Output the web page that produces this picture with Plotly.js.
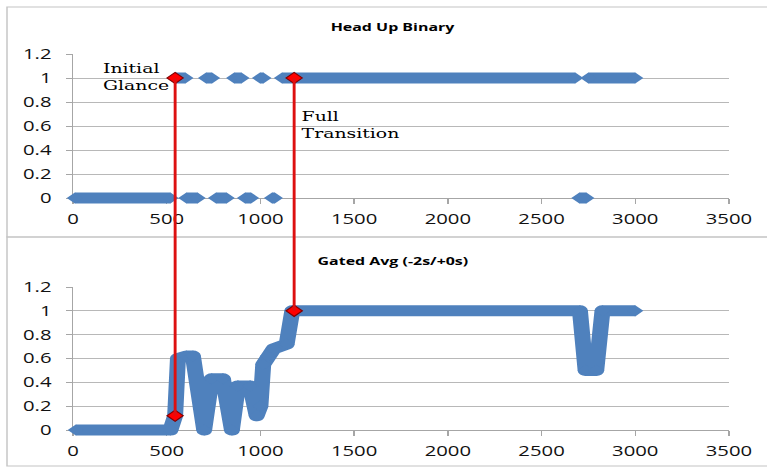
<!DOCTYPE html>
<html>
<head>
<meta charset="utf-8">
<script src="https://cdn.plot.ly/plotly-3.0.1.min.js"></script>
<style>
  html, body { margin: 0; padding: 0; background: #fff; overflow: hidden; }
  #chart { width: 529px; height: 468px; transform: scaleX(1.44991); transform-origin: 0 0; }
  #chart .js-line { stroke-linejoin: round !important; }
</style>
</head>
<body>
<div id="chart"></div>
<script>
// ---- data ----
const titleTop = "Head Up Binary";
const titleBottom = "Gated Avg (-2s/+0s)";
const xTicks = [0, 500, 1000, 1500, 2000, 2500, 3000, 3500];
const yTicks = [0, 0.2, 0.4, 0.6, 0.8, 1, 1.2];

// Head Up Binary: runs of consecutive samples (first x, last x) at value 1 and at value 0
const headUpOnStart  = [550, 710, 860, 998, 1115, 2750];
const headUpOnEnd    = [600, 742, 899, 1016, 2680, 3000];
const headUpOffStart = [10, 605, 763, 918, 1062, 2702];
const headUpOffEnd   = [520, 665, 820, 950, 1077, 2739];

// Gated average (-2s/+0s)
const gatedX = [15, 520, 545, 560, 605, 640, 700, 740, 800, 848, 880, 945, 980, 1000, 1015, 1040, 1070, 1140, 1170, 2705, 2735, 2792, 2825, 3000];
const gatedY = [0, 0, 0.12, 0.6, 0.62, 0.62, 0, 0.43, 0.43, 0, 0.37, 0.37, 0.12, 0.2, 0.55, 0.62, 0.68, 0.72, 1.0, 1.0, 0.5, 0.5, 1.0, 1.0];

// Event markers
const eventLabels = ["Initial<br>Glance", "Full<br>Transition"];
const eventX = [545, 1180];
const eventTopY = [1, 1];
const eventBottomY = [0.12, 1.0];

// ---- layout geometry ----
const W = 529, H = 468;
const blue = "#4F81BD";
const xRange = [0, 3500];
const yRange = [0, 1.2];
const xDomain = [50.34 / W, 502.76 / W];
const yDomTop = [1 - 198 / H, 1 - 54 / H];
const yDomBot = [1 - 430 / H, 1 - 287 / H];
function yPaper(dom, v) { return dom[0] + (v - yRange[0]) / (yRange[1] - yRange[0]) * (dom[1] - dom[0]); }

// invisible data axes with the same scale but a padded range, so thick marks are not clipped
const xPad = 100, yPad = 0.2;
function padDomain(dom, range, pad) {
  const k = (dom[1] - dom[0]) / (range[1] - range[0]);
  return [dom[0] - pad * k, dom[1] + pad * k];
}
const xDataDom = padDomain(xDomain, xRange, xPad);
const xDataRange = [xRange[0] - xPad, xRange[1] + xPad];
const yDataRange = [yRange[0] - yPad, yRange[1] + yPad];
const yDataDomTop = padDomain(yDomTop, yRange, yPad);
const yDataDomBot = padDomain(yDomBot, yRange, yPad);

function runsToXY(starts, ends, val) {
  const x = [], y = [];
  starts.forEach((s, i) => { x.push(s, ends[i], null); y.push(val, val, null); });
  return { x, y };
}
const on = runsToXY(headUpOnStart, headUpOnEnd, 1);
const off = runsToXY(headUpOffStart, headUpOffEnd, 0);

const bandLine = { color: blue, width: 11 };
const bandMarker = { symbol: "diamond", size: 8.6, color: blue, line: { width: 0 } };
const redMarker = { symbol: "diamond", size: 8.6, color: "#ff0000", line: { color: "#800000", width: 1 } };

const traces = [
  // empty traces that register the two visible (gridded) subplots
  { x: [], y: [], xaxis: "x", yaxis: "y", mode: "markers", hoverinfo: "skip" },
  { x: [], y: [], xaxis: "x2", yaxis: "y2", mode: "markers", hoverinfo: "skip" },
  { x: on.x, y: on.y, xaxis: "x3", yaxis: "y3", mode: "lines+markers", line: bandLine, marker: bandMarker, connectgaps: false, hoverinfo: "skip" },
  { x: off.x, y: off.y, xaxis: "x3", yaxis: "y3", mode: "lines+markers", line: bandLine, marker: bandMarker, connectgaps: false, hoverinfo: "skip" },
  { x: gatedX, y: gatedY, xaxis: "x4", yaxis: "y4", mode: "lines+markers", line: bandLine, marker: bandMarker, hoverinfo: "skip" },
  { x: eventX, y: eventTopY, xaxis: "x3", yaxis: "y3", mode: "markers", marker: redMarker, cliponaxis: false, hoverinfo: "skip" },
  { x: eventX, y: eventBottomY, xaxis: "x4", yaxis: "y4", mode: "markers", marker: redMarker, cliponaxis: false, hoverinfo: "skip" }
];

const tickFont = { family: "Open Sans, sans-serif", size: 14, color: "#111" };
const axisGray = "#a6a6a6";
function xAxis(anchor) {
  return {
    domain: xDomain, anchor: anchor, range: xRange, tickmode: "array", tickvals: xTicks,
    ticktext: xTicks.map(String), showgrid: false, zeroline: false, showline: true,
    linecolor: axisGray, linewidth: 1, ticks: "outside", ticklen: 5, tickcolor: axisGray,
    tickfont: tickFont, ticklabelstandoff: 3, fixedrange: true
  };
}
function yAxis(dom, anchor) {
  return {
    domain: dom, anchor: anchor, range: yRange, tickmode: "array", tickvals: yTicks,
    ticktext: yTicks.map(String), showgrid: true, gridcolor: "#b8b8b8", gridwidth: 1,
    zeroline: false, showline: true, linecolor: axisGray, linewidth: 1,
    ticks: "outside", ticklen: 4, tickcolor: axisGray, tickfont: tickFont, ticklabelstandoff: 7, fixedrange: true
  };
}
function hiddenAxis(dom, range, anchor) {
  return { domain: dom, range: range, anchor: anchor, visible: false, showgrid: false, zeroline: false, fixedrange: true };
}

const shapes = [
  // chart area borders
  { type: "rect", xref: "paper", yref: "paper", x0: 7 / 767, x1: 1.02, y0: 1 - 237 / H, y1: 1 - 7 / H, line: { color: "#c4c4c4", width: 1 }, layer: "below" },
  { type: "rect", xref: "paper", yref: "paper", x0: 7 / 767, x1: 1.02, y0: 1 - 466 / H, y1: 1 - 237 / H, line: { color: "#c4c4c4", width: 1 }, layer: "below" }
];
eventX.forEach((x, i) => {
  shapes.push({ type: "line", xref: "x", yref: "paper", x0: x, x1: x,
    y0: yPaper(yDomBot, eventBottomY[i]), y1: yPaper(yDomTop, eventTopY[i]),
    line: { color: "#dd1010", width: 2 }, layer: "above" });
});

const titleFont = { family: "Open Sans, sans-serif", size: 11, color: "#000" };
const annFont = { family: "DejaVu Serif, serif", size: 13, color: "#000" };
const annotations = [
  { text: "<b>" + titleTop + "</b>", xref: "paper", yref: "paper", x: 271.4 / W, y: 1 - 26 / H, xanchor: "center", yanchor: "middle", showarrow: false, font: titleFont },
  { text: "<b>" + titleBottom + "</b>", xref: "paper", yref: "paper", x: 271.4 / W, y: 1 - 260 / H, xanchor: "center", yanchor: "middle", showarrow: false, font: titleFont },
  { text: eventLabels[0], xref: "paper", yref: "paper", x: 68.5 / W, y: 1 - 77.5 / H, xanchor: "left", yanchor: "middle", align: "left", showarrow: false, font: annFont },
  { text: eventLabels[1], xref: "paper", yref: "paper", x: 205.8 / W, y: 1 - 125.5 / H, xanchor: "left", yanchor: "middle", align: "left", showarrow: false, font: annFont }
];

const layout = {
  width: W, height: H, margin: { l: 0, r: 0, t: 0, b: 0 },
  paper_bgcolor: "#ffffff", plot_bgcolor: "rgba(0,0,0,0)", showlegend: false,
  xaxis: xAxis("y"), yaxis: yAxis(yDomTop, "x"),
  xaxis2: xAxis("y2"), yaxis2: yAxis(yDomBot, "x2"),
  xaxis3: hiddenAxis(xDataDom, xDataRange, "y3"), yaxis3: hiddenAxis(yDataDomTop, yDataRange, "x3"),
  xaxis4: hiddenAxis(xDataDom, xDataRange, "y4"), yaxis4: hiddenAxis(yDataDomBot, yDataRange, "x4"),
  shapes: shapes, annotations: annotations
};

Plotly.newPlot("chart", traces, layout, { displayModeBar: false, staticPlot: true });
</script>
</body>
</html>
